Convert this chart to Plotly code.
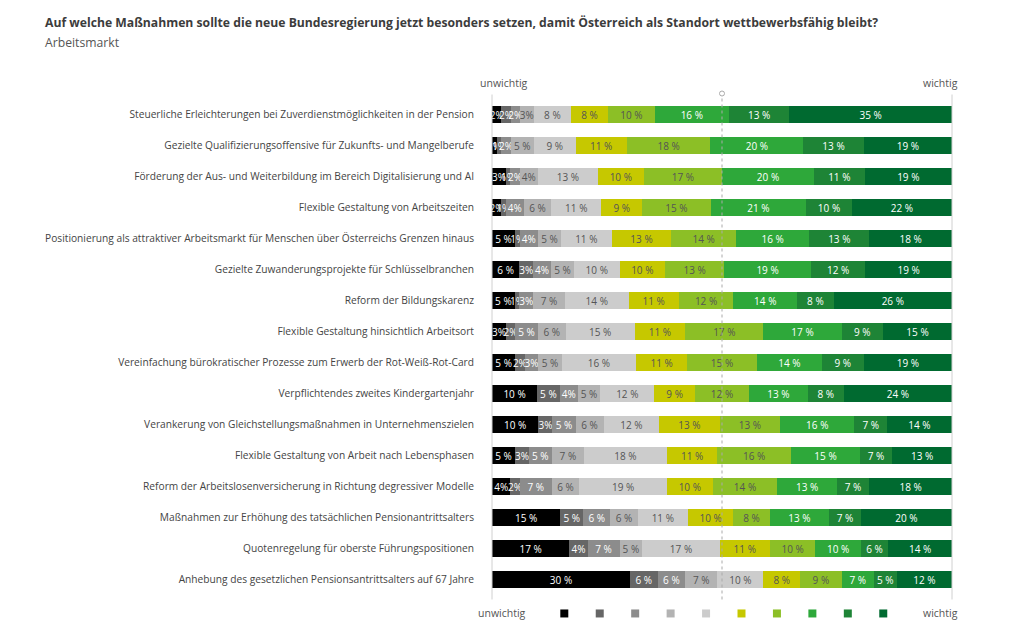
import plotly.graph_objects as go

categories = [
    "Steuerliche Erleichterungen bei Zuverdienstmöglichkeiten in der Pension",
    "Gezielte Qualifizierungsoffensive für Zukunfts- und Mangelberufe",
    "Förderung der Aus- und Weiterbildung im Bereich Digitalisierung und AI",
    "Flexible Gestaltung von Arbeitszeiten",
    "Positionierung als attraktiver Arbeitsmarkt für Menschen über Österreichs Grenzen hinaus",
    "Gezielte Zuwanderungsprojekte für Schlüsselbranchen",
    "Reform der Bildungskarenz",
    "Flexible Gestaltung hinsichtlich Arbeitsort",
    "Vereinfachung bürokratischer Prozesse zum Erwerb der Rot-Weiß-Rot-Card",
    "Verpflichtendes zweites Kindergartenjahr",
    "Verankerung von Gleichstellungsmaßnahmen in Unternehmenszielen",
    "Flexible Gestaltung von Arbeit nach Lebensphasen",
    "Reform der Arbeitslosenversicherung in Richtung degressiver Modelle",
    "Maßnahmen zur Erhöhung des tatsächlichen Pensionantrittsalters",
    "Quotenregelung für oberste Führungspositionen",
    "Anhebung des gesetzlichen Pensionsantrittsalters auf 67 Jahre",
]

# values per scale step 1 (unwichtig) .. 10 (wichtig), one list per step
s1 = [2, 1, 3, 2, 5, 6, 5, 3, 5, 10, 10, 5, 4, 15, 17, 30]
s2 = [2, 1, 1, 1, 1, 3, 1, 2, 2, 5, 3, 3, 2, 5, 4, 6]
s3 = [2, 2, 2, 4, 4, 4, 3, 5, 3, 4, 5, 5, 7, 6, 7, 6]
s4 = [3, 5, 4, 6, 5, 5, 7, 6, 5, 5, 6, 7, 6, 6, 5, 7]
s5 = [8, 9, 13, 11, 11, 10, 14, 15, 16, 12, 12, 18, 19, 11, 17, 10]
s6 = [8, 11, 10, 9, 13, 10, 11, 11, 11, 9, 13, 11, 10, 10, 11, 8]
s7 = [10, 18, 17, 15, 14, 13, 12, 17, 15, 12, 13, 16, 14, 8, 10, 9]
s8 = [16, 20, 20, 21, 16, 19, 14, 17, 14, 13, 16, 15, 13, 13, 10, 7]
s9 = [13, 13, 11, 10, 13, 12, 8, 9, 9, 8, 7, 7, 7, 7, 6, 5]
s10 = [35, 19, 19, 22, 18, 19, 26, 15, 19, 24, 14, 13, 18, 20, 14, 12]

series = [s1, s2, s3, s4, s5, s6, s7, s8, s9, s10]
scale_names = ["1", "2", "3", "4", "5", "6", "7", "8", "9", "10"]
colors = ["#000000", "#666666", "#8c8c8c", "#b3b3b3", "#cccccc",
          "#c6c800", "#8cbf26", "#2ea83a", "#1e8436", "#006a30"]
text_colors = ["#ffffff", "#ffffff", "#ffffff", "#555555", "#555555",
               "#555555", "#555555", "#ffffff", "#ffffff", "#ffffff"]

FONT = "Open Sans"


def lab(v):
    return f"{v}%" if v <= 4 else f"{v} %"


fig = go.Figure()
for name, vals, col, tcol in zip(scale_names, series, colors, text_colors):
    fig.add_trace(go.Bar(
        name=name, y=categories, x=vals, orientation="h",
        marker=dict(color=col, line=dict(width=0)),
        text=[lab(v) for v in vals], textposition="inside",
        insidetextanchor="middle", textangle=0,
        textfont=dict(color=tcol, size=10, family=FONT),
        showlegend=False, hoverinfo="skip",
    ))

# page is rendered with an 8px body margin: shift the figure content accordingly
OFF = 8
top_px, bot_px = 98.5, 595.5   # target plot area in screenshot pixels
left_px, right_px = 492, 952
H = bot_px - top_px
W = right_px - left_px


def py(y):
    return (bot_px - y) / H


def px(x):
    return (x - left_px) / W


shapes = []
for xv in (0, 1):
    shapes.append(dict(type="line", xref="paper", yref="paper", x0=xv, x1=xv,
                       y0=py(600), y1=py(94), line=dict(color="#d0d0d0", width=1)))
shapes.append(dict(type="line", xref="paper", yref="paper", x0=0.5, x1=0.5,
                   y0=py(600), y1=py(96), line=dict(color="#aaaaaa", width=1, dash="dot")))
shapes.append(dict(type="circle", xref="paper", yref="paper", xsizemode="pixel",
                   ysizemode="pixel", xanchor=0.5, yanchor=py(93),
                   x0=-2.5, x1=2.5, y0=-2.5, y1=2.5,
                   line=dict(color="#aaaaaa", width=1), fillcolor="white"))
for i, col in enumerate(colors):
    cx = px(564.3 + i * 35.44)
    shapes.append(dict(type="rect", xref="paper", yref="paper", xsizemode="pixel",
                       ysizemode="pixel", xanchor=cx, yanchor=py(614),
                       x0=-4, x1=4, y0=-4, y1=4, fillcolor=col, line=dict(width=0)))

annotations = [
    dict(text="<b>Auf welche Maßnahmen sollte die neue Bundesregierung jetzt besonders setzen, damit Österreich als Standort wettbewerbsfähig bleibt?</b>",
         xref="paper", yref="paper", x=px(43), y=py(22), xanchor="left", yanchor="middle",
         showarrow=False, font=dict(size=12.2, color="#3c3c3c", family=FONT)),
    dict(text="Arbeitsmarkt", xref="paper", yref="paper", x=px(43), y=py(42),
         xanchor="left", yanchor="middle", showarrow=False,
         font=dict(size=12.2, color="#555555", family=FONT)),
    dict(text="unwichtig", xref="paper", yref="paper", x=px(503.5), y=py(82),
         xanchor="center", yanchor="middle", showarrow=False,
         font=dict(size=10.5, color="#555555", family=FONT)),
    dict(text="wichtig", xref="paper", yref="paper", x=px(940.5), y=py(82),
         xanchor="center", yanchor="middle", showarrow=False,
         font=dict(size=10.5, color="#555555", family=FONT)),
    dict(text="unwichtig", xref="paper", yref="paper", x=px(502), y=py(614),
         xanchor="center", yanchor="middle", showarrow=False,
         font=dict(size=10.5, color="#555555", family=FONT)),
    dict(text="wichtig", xref="paper", yref="paper", x=px(940.5), y=py(614),
         xanchor="center", yanchor="middle", showarrow=False,
         font=dict(size=10.5, color="#555555", family=FONT)),
]

fig.update_layout(
    width=1024, height=644,
    barmode="stack", barnorm="percent", bargap=0.45,
    margin=dict(l=left_px - OFF, r=1024 - (right_px - OFF),
                t=top_px - OFF, b=644 - (bot_px - OFF), pad=0),
    paper_bgcolor="white", plot_bgcolor="white",
    font=dict(family=FONT, size=10, color="#444444"),
    uniformtext=dict(minsize=10, mode="show"),
    xaxis=dict(range=[0, 100], visible=False, fixedrange=True),
    yaxis=dict(autorange="reversed", showline=False, showgrid=False, zeroline=False,
               ticks="", ticklabelstandoff=17,
               tickfont=dict(size=10.2, color="#444444", family=FONT)),
    shapes=shapes, annotations=annotations,
)

fig.write_html("out.html")
